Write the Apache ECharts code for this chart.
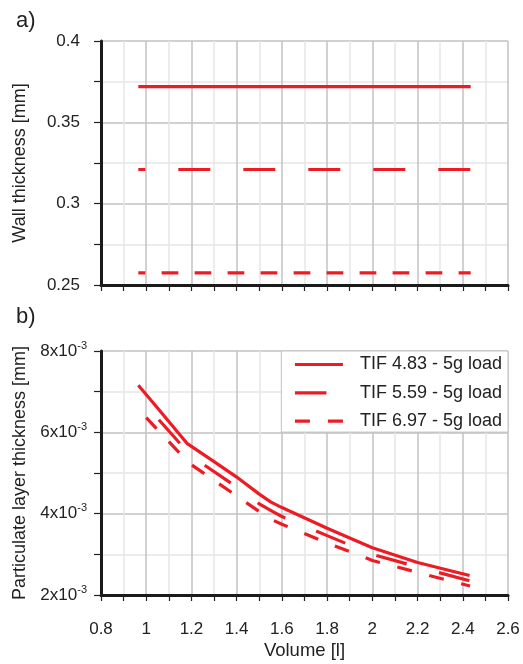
<!DOCTYPE html>
<html>
<head>
<meta charset="utf-8">
<script src="https://cdn.jsdelivr.net/npm/echarts@6/dist/echarts.min.js"></script>
<style>
html,body{margin:0;padding:0;background:#fff;}
#c{width:523px;height:664px;}
</style>
</head>
<body>
<div id="c"></div>
<script>
// ---- data ----
const seriesNames = ['TIF 4.83 - 5g load', 'TIF 5.59 - 5g load', 'TIF 6.97 - 5g load'];
// panel a: wall thickness [mm], constant over volume range
const wallVolume = [0.965, 2.435];
const wall483 = [0.372, 0.372];
const wall559 = [0.321, 0.321];
const wall697 = [0.2575, 0.2575];
// panel b: particulate layer thickness [mm] vs volume [l]
const vol483 = [0.965, 1.05, 1.18, 1.3, 1.4, 1.5, 1.55, 1.6, 1.8, 2.0, 2.2, 2.43];
const plt483 = [7.16e-3, 6.60e-3, 5.73e-3, 5.28e-3, 4.90e-3, 4.48e-3, 4.29e-3, 4.15e-3, 3.64e-3, 3.16e-3, 2.80e-3, 2.48e-3];
const vol559 = [1.0, 1.2, 1.37, 1.5, 1.56, 1.6, 1.8, 2.0, 2.2, 2.436];
const plt559 = [6.66e-3, 5.41e-3, 4.77e-3, 4.24e-3, 4.05e-3, 3.93e-3, 3.46e-3, 3.00e-3, 2.69e-3, 2.34e-3];
const vol697 = [1.0, 1.19, 1.37, 1.5, 1.56, 1.6, 1.8, 2.0, 2.2, 2.432];
const plt697 = [6.36e-3, 5.24e-3, 4.55e-3, 4.05e-3, 3.84e-3, 3.74e-3, 3.28e-3, 2.85e-3, 2.555e-3, 2.22e-3];
const xTicks = [0.8, 1, 1.2, 1.4, 1.6, 1.8, 2, 2.2, 2.4, 2.6];

const pair = (xs, ys) => xs.map((x, i) => [x, ys[i]]);

const RED = '#ed1c24';
const FONT = 'Liberation Sans, Arial, sans-serif';
const TXT = '#222';

function xAxisCfg(idx, showLabels) {
  return {
    type: 'value', gridIndex: idx, min: xTicks[0], max: xTicks[xTicks.length - 1], interval: 0.2,
    axisLine: { show: true, onZero: false, lineStyle: { color: '#1a1a1a', width: 3 } },
    axisTick: { show: true, length: 6, lineStyle: { color: '#222', width: 1.2 } },
    minorTick: { show: true, splitNumber: 2, length: 6, lineStyle: { color: '#222', width: 1.2 } },
    splitLine: { show: true, lineStyle: { color: '#c2c2c2', width: 1.5 } },
    minorSplitLine: { show: true, lineStyle: { color: '#e6e6e6', width: 1.5 } },
    axisLabel: { show: showLabels, fontSize: 17, color: TXT, fontFamily: FONT, margin: 26 },
    name: showLabels ? 'Volume [l]' : '', nameLocation: 'middle', nameGap: 46,
    nameTextStyle: { fontSize: 18.5, color: TXT, fontFamily: FONT }
  };
}
function yAxisCfg(idx, min, max, interval, name, formatter) {
  const cfg = {
    type: 'value', gridIndex: idx, min: min, max: max, interval: interval,
    axisLine: { show: true, lineStyle: { color: '#1a1a1a', width: 3 } },
    axisTick: { show: true, length: 7, lineStyle: { color: '#222', width: 1.2 } },
    minorTick: { show: true, splitNumber: 2, length: 7, lineStyle: { color: '#222', width: 1.2 } },
    splitLine: { show: true, lineStyle: { color: '#c2c2c2', width: 1.5 } },
    minorSplitLine: { show: true, lineStyle: { color: '#e6e6e6', width: 1.5 } },
    axisLabel: { fontSize: 17, color: TXT, fontFamily: FONT, margin: 21 },
    name: name, nameLocation: 'middle', nameGap: 72,
    nameTextStyle: { fontSize: 18, color: TXT, fontFamily: FONT }
  };
  if (formatter) {
    cfg.axisLabel.formatter = formatter;
    cfg.axisLabel.margin = 14;
    cfg.axisLabel.rich = {
      b: { fontSize: 17, color: TXT, fontFamily: FONT, lineHeight: 22 },
      s: { fontSize: 11, color: TXT, fontFamily: FONT, verticalAlign: 'top' }
    };
  }
  return cfg;
}

const chart = echarts.init(document.getElementById('c'), null, { renderer: 'canvas' });
const lineBase = (name, xi, yi, data, dash, offset) => ({
  name: name, type: 'line', xAxisIndex: xi, yAxisIndex: yi, data: data,
  showSymbol: false, symbol: 'none', silent: true, animation: false,
  lineStyle: { color: RED, width: 3.2, type: dash, dashOffset: offset, cap: 'butt' },
  itemStyle: { color: RED }
});

chart.setOption({
  animation: false,
  backgroundColor: '#fff',
  title: [
    { text: 'a)', left: 11, top: 5, textStyle: { fontSize: 22, fontWeight: 'normal', color: TXT, fontFamily: FONT } },
    { text: 'b)', left: 11, top: 301, textStyle: { fontSize: 22, fontWeight: 'normal', color: TXT, fontFamily: FONT } }
  ],
  grid: [
    { left: 101, width: 407, top: 41, height: 244 },
    { left: 101, width: 407, top: 351, height: 244 }
  ],
  xAxis: [xAxisCfg(0, false), xAxisCfg(1, true)],
  yAxis: [
    yAxisCfg(0, 0.25, 0.4, 0.05, 'Wall thickness [mm]'),
    yAxisCfg(1, 0.002, 0.008, 0.002, 'Particulate layer thickness [mm]',
      v => '{b|' + Math.round(v * 1000) + 'x10}{s|-3}')
  ],
  legend: {
    data: seriesNames, orient: 'vertical', right: 15, top: 351,
    padding: [3.5, 6, 1, 12], itemWidth: 48, itemHeight: 14, itemGap: 8.3,
    backgroundColor: '#fff', borderColor: '#c2c2c2', borderWidth: 1, borderRadius: 0,
    selectedMode: false,
    itemStyle: { color: 'transparent', borderWidth: 0, opacity: 0 },
    lineStyle: { dashOffset: 0, width: 3.2, color: RED },
    textStyle: { fontSize: 18, color: TXT, fontFamily: FONT, lineHeight: 20, padding: [0, 0, 0, 12] }
  },
  series: [
    lineBase('a 4.83', 0, 0, pair(wallVolume, wall483), 'solid', 0),
    lineBase('a 5.59', 0, 0, pair(wallVolume, wall559), [32, 33], 25),
    lineBase('a 6.97', 0, 0, pair(wallVolume, wall697), [16.7, 16.3], 9.7),
    lineBase(seriesNames[0], 1, 1, pair(vol483, plt483), 'solid', 0),
    lineBase(seriesNames[1], 1, 1, pair(vol559, plt559), [31.5, 33.5], 46),
    lineBase(seriesNames[2], 1, 1, pair(vol697, plt697), [15, 18], 0)
  ]
});
</script>
</body>
</html>
